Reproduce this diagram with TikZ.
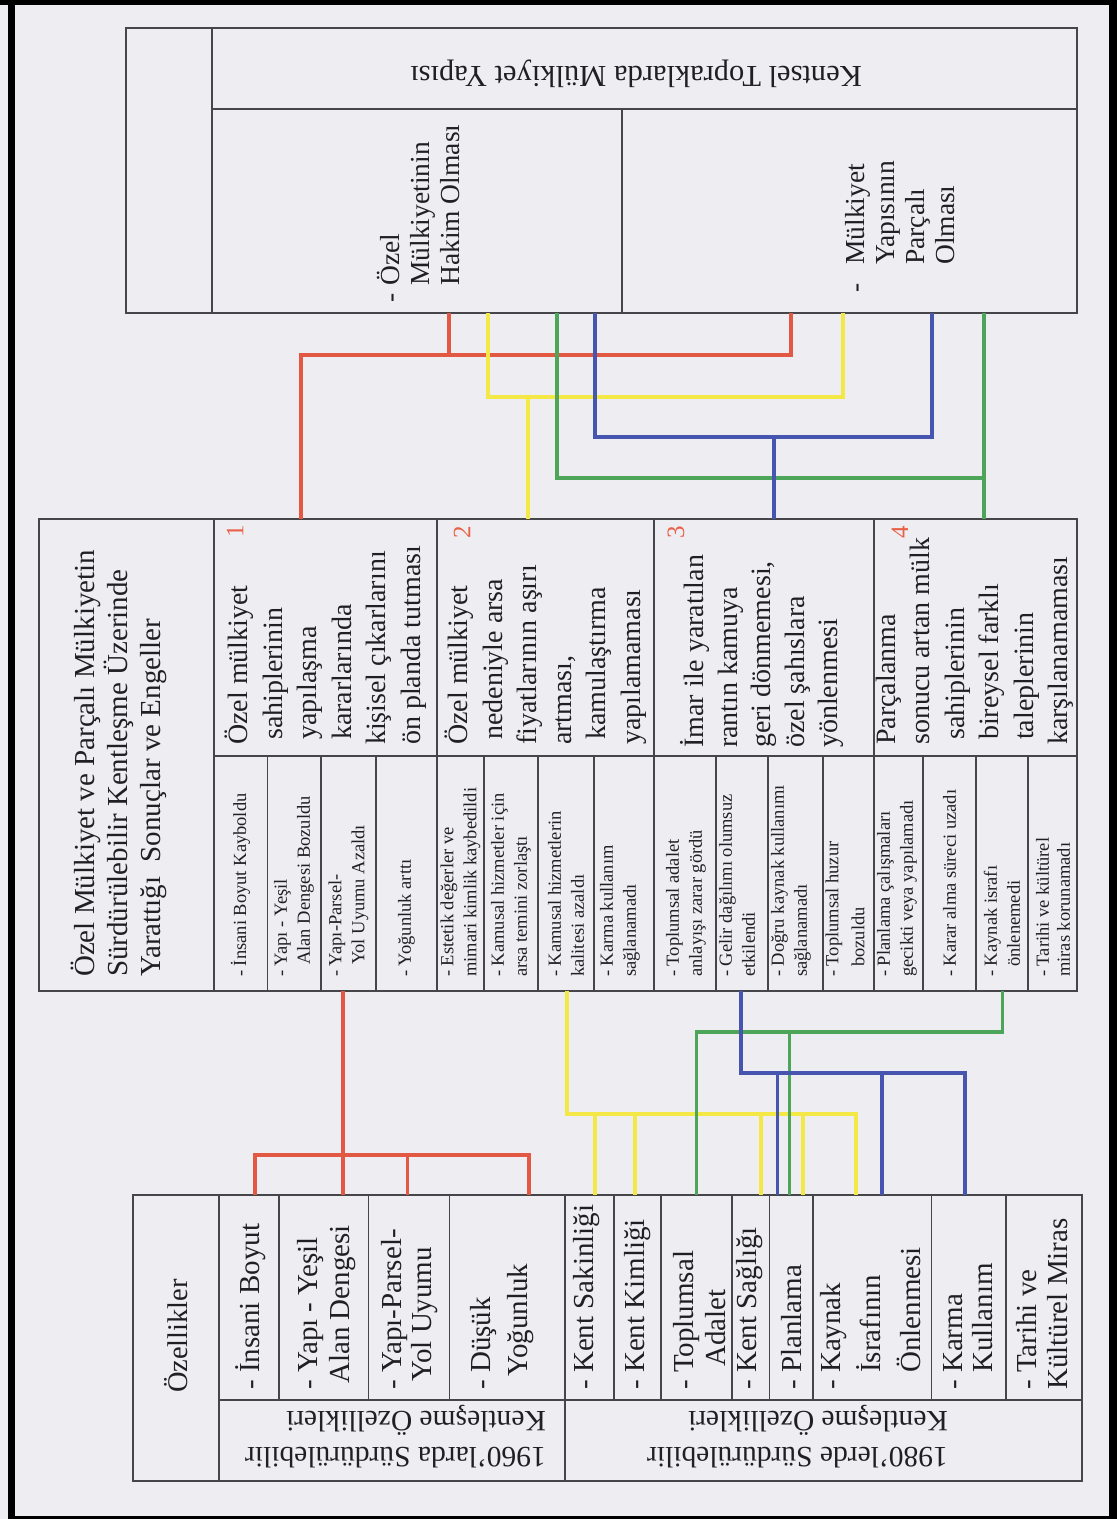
\documentclass[tikz,border=0pt]{standalone}
\usepackage{fontspec}
\setmainfont{Liberation Serif}
\definecolor{pagebg}{RGB}{238,238,242}
\definecolor{boxc}{RGB}{70,70,74}
\definecolor{txt}{RGB}{32,32,36}
\definecolor{lred}{RGB}{226,88,66}
\definecolor{lyel}{RGB}{244,232,70}
\definecolor{lgrn}{RGB}{76,165,88}
\definecolor{lblu}{RGB}{70,86,176}
\definecolor{nred}{RGB}{232,96,70}
\newcommand\dsh[1]{\makebox[#1][l]{-}}
\begin{document}
\begin{tikzpicture}[x=1pt,y=-1pt,
  box/.style={draw=boxc,line width=1.6pt},
  conn/.style={line width=3.2pt},
  tv/.style={rotate=90,anchor=west,inner sep=0pt,align=left,text=txt},
  big/.style={tv,font=\fontsize{29}{33}\selectfont},
  grp/.style={tv,font=\fontsize{28}{34.5}\selectfont},
  sml/.style={tv,font=\fontsize{18.5}{23}\selectfont},
  upd/.style={rotate=180,anchor=west,inner sep=0pt,align=left,text=txt,font=\fontsize{29.5}{36}\selectfont},
  num/.style={rotate=90,inner sep=0pt,text=nred,font=\fontsize{25}{25}\selectfont}]
% page
\useasboundingbox (0,0) rectangle (1117,1519);
\fill[pagebg] (0,0) rectangle (1117,1519);
\fill[black] (0,0) rectangle (1117,5);
\fill[black] (8,0) rectangle (15,1519);
\fill[black] (1109,0) rectangle (1117,1519);
\fill[black] (8,1516) rectangle (1117,1519);

% ---------- top block ----------
\draw[box] (126,28) rectangle (1077,313);
\draw[box] (212,28) -- (212,313);
\draw[box] (212,109) -- (1077,109);
\draw[box] (622,109) -- (622,313);
\node[upd,font=\fontsize{30.5}{34}\selectfont] (kentsel) at (862,74) {Kentsel Topraklarda Mülkiyet Yapısı};
\node[tv,font=\fontsize{27.5}{30}\selectfont] (ozelhakim) at (418,303) {\dsh{17pt}Özel\\\hspace*{17pt}Mülkiyetinin\\\hspace*{17pt}Hakim Olması};
\node[tv,font=\fontsize{27.5}{30}\selectfont] (parcali) at (900,293) {\dsh{28pt}Mülkiyet\\\hspace*{28pt}Yapısının\\\hspace*{28pt}Parçalı\\\hspace*{28pt}Olması};

% ---------- middle block ----------
\draw[box] (39,519) rectangle (1077,991);
\draw[box] (214,519) -- (214,991);
\draw[box] (214,756) -- (1077,756);
\foreach \x in {437,654,874} \draw[box] (\x,519) -- (\x,991);
\foreach \x in {267.5,321,376,484,538,594,716,768,823,923,976,1028} \draw[box] (\x,756) -- (\x,991);

\node[big] (mhead) at (119,977) {Özel Mülkiyet ve Parçalı Mülkiyetin\\Sürdürülebilir Kentleşme Üzerinde\\Yarattığı\ \ Sonuçlar ve Engeller};

\node[grp] (g1) at (325.5,745) {Özel mülkiyet\\\hspace*{5pt}sahiplerinin\\\hspace*{5pt}yapılaşma\\\hspace*{5pt}kararlarında\\kişisel çıkarlarını\\ön planda tutması};
\node[grp] (g2) at (545.5,745) {Özel mülkiyet\\\hspace*{5pt}nedeniyle arsa\\fiyatlarının aşırı\\artması,\\\hspace*{5pt}kamulaştırma\\yapılamaması};
\node[grp,font=\fontsize{28}{33.5}\selectfont] (g3) at (762,748) {İmar ile yaratılan\\rantın kamuya\\geri dönmemesi,\\özel şahıslara\\yönlenmesi};
\node[grp] (g4) at (975,745) {Parçalanma\\sonucu artan mülk\\\hspace*{5pt}sahiplerinin\\\hspace*{5pt}bireysel farklı\\\hspace*{5pt}taleplerinin\\karşılanamaması};

\node[num] (n1) at (235,531) {1};
\node[num] (n2) at (462,532) {2};
\node[num] (n3) at (676,532) {3};
\node[num] (n4) at (900,532) {4};

\node[sml] (s11) at (240.5,977) {- İnsani Boyut Kayboldu};
\node[sml] (s12) at (294,977) {- Yapı - Yeşil\\\hspace*{12pt}Alan Dengesi Bozuldu};
\node[sml] (s13) at (348.5,977) {- Yapı-Parsel-\\\hspace*{12pt}Yol Uyumu Azaldı};
\node[sml] (s14) at (406.5,977) {- Yoğunluk arttı};
\node[sml] (s21) at (460.5,977) {- Estetik değerler ve\\mimari kimlik kaybedildi};
\node[sml] (s22) at (511,977) {- Kamusal hizmetler için\\arsa temini zorlaştı};
\node[sml] (s23) at (566,977) {- Kamusal hizmetlerin\\kalitesi azaldı};
\node[sml] (s24) at (620,977) {- Karma kullanım\\sağlanamadı};
\node[sml] (s31) at (686,977) {- Toplumsal adalet\\anlayışı zarar gördü};
\node[sml] (s32) at (737,977) {- Gelir dağılımı olumsuz\\etkilendi};
\node[sml] (s33) at (791,977) {- Doğru kaynak kullanımı\\sağlanamadı};
\node[sml,font=\fontsize{18.5}{26}\selectfont] (s34) at (845,977) {- Toplumsal huzur\\\hspace*{10pt}bozuldu};
\node[sml] (s41) at (897,977) {- Planlama çalışmaları\\gecikti veya yapılamadı};
\node[sml] (s42) at (949.5,977) {- Karar alma süreci uzadı};
\node[sml] (s43) at (1002,977) {- Kaynak israfı\\\hspace*{10pt}önlenemedi};
\node[sml,font=\fontsize{18.5}{21}\selectfont] (s44) at (1053,977) {- Tarihi ve kültürel\\miras korunamadı};

% ---------- bottom block ----------
\draw[box] (133,1195) rectangle (1082,1481);
\draw[box] (219,1195) -- (219,1481);
\draw[box] (219,1400) -- (1082,1400);
\draw[box] (565,1195) -- (565,1481);
\foreach \x in {279,368.6,449.6,614,661,732,769.5,813,931.6,1006} \draw[box] (\x,1195) -- (\x,1400);

\node[big,anchor=center,font=\fontsize{28.5}{33}\selectfont] (ozellikler) at (176,1336) {Özellikler};
\node[upd] (y1960) at (546,1437) {1960'larda Sürdürülebilir\\Kentleşme Özellikleri};
\node[upd] (y1980) at (948,1437) {1980'lerde Sürdürülebilir\\Kentleşme Özellikleri};

\node[big] (b1) at (251,1390) {- İnsani Boyut};
\node[big,font=\fontsize{29}{32}\selectfont] (b2) at (327,1390) {- Yapı - Yeşil\\\hspace*{6pt}Alan Dengesi};
\node[big,font=\fontsize{29}{30}\selectfont] (b3) at (410,1390) {- Yapı-Parsel-\\\hspace*{8pt}Yol Uyumu};
\node[big,font=\fontsize{29}{37}\selectfont] (b4) at (502,1390) {- Düşük\\\hspace*{13pt}Yoğunluk};
\node[big] (b5) at (587,1390) {- Kent Sakinliği};
\node[big] (b6) at (638,1390) {- Kent Kimliği};
\node[big,font=\fontsize{29}{32}\selectfont] (b7) at (700,1390) {- Toplumsal\\\hspace*{23pt}Adalet};
\node[big] (b8) at (750,1390) {- Kent Sağlığı};
\node[big] (b9) at (792,1390) {- Planlama};
\node[big,font=\fontsize{29}{40}\selectfont] (b10) at (871,1390) {- Kaynak\\\hspace*{17pt}İsrafının\\\hspace*{17pt}Önlenmesi};
\node[big,font=\fontsize{29}{30}\selectfont] (b11) at (968,1390) {- Karma\\\hspace*{17pt}Kullanım};
\node[big,font=\fontsize{29}{31}\selectfont] (b12) at (1042,1390) {- Tarihi ve\\Kültürel Miras};

% ---------- connectors: top block -> middle block ----------
\coordinate (rA1) at (449,313); \coordinate (rA2) at (791,313);
\coordinate (rJ) at (301,355);  \coordinate (rB) at (301,519);
\coordinate (yA1) at (488,313); \coordinate (yA2) at (843,313);
\coordinate (yJ) at (488,397);  \coordinate (yB) at (528,519);
\coordinate (gA1) at (557,313); \coordinate (gA2) at (984,313);
\coordinate (gJ) at (557,478);  \coordinate (gB) at (984,519);
\coordinate (bA1) at (595,313); \coordinate (bA2) at (932,313);
\coordinate (bJ) at (595,437);  \coordinate (bB) at (774,519);

\draw[conn,lred] (rB) -- (rJ) -| (rA2);
\draw[conn,lred] (rA1) -- (rA1 |- rJ);
\draw[conn,lyel] (yA1) -- (yJ) -| (yA2);
\draw[conn,lyel] (yB) -- (yB |- yJ);
\draw[conn,lgrn] (gA1) -- (gJ) -| (gA2);
\draw[conn,lgrn] (gA2) -- (gB);
\draw[conn,lblu] (bA1) -- (bJ) -| (bA2);
\draw[conn,lblu] (bB) -- (bB |- bJ);

% ---------- connectors: middle block -> bottom block ----------
\coordinate (rM) at (343,991);   \coordinate (rH) at (0,1155);
\coordinate (rC1) at (255,1195); \coordinate (rC2) at (343,1195);
\coordinate (rC3) at (407.5,1195); \coordinate (rC4) at (529,1195);
\draw[conn,lred] (rM) -- (rC2);
\draw[conn,lred] (rC1) -- (rC1 |- rH) -- (rC4 |- rH) -- (rC4);
\draw[conn,lred] (rC3) -- (rC3 |- rH);

\coordinate (yM) at (567,991);   \coordinate (yH) at (0,1114);
\coordinate (yC1) at (595,1195); \coordinate (yC2) at (635,1195);
\coordinate (yC3) at (761,1195); \coordinate (yC4) at (803,1195);
\coordinate (yC5) at (856,1195);
\draw[conn,lyel] (yM) -- (yM |- yH) -- (yC5 |- yH) -- (yC5);
\foreach \c in {yC1,yC2,yC3,yC4} \draw[conn,lyel] (\c) -- (\c |- yH);

\coordinate (gM) at (1002.5,991); \coordinate (gH) at (0,1032);
\coordinate (gC1) at (696.5,1195); \coordinate (gC2) at (789.5,1195);
\draw[conn,lgrn] (gM) -- (gM |- gH) -- (gC1 |- gH) -- (gC1);
\draw[conn,lgrn] (gC2) -- (gC2 |- gH);

\coordinate (bM) at (741,991);   \coordinate (bH) at (0,1073);
\coordinate (bC1) at (777.5,1195); \coordinate (bC2) at (882,1195);
\coordinate (bC3) at (965,1195);
\draw[conn,lblu] (bM) -- (bM |- bH) -- (bC3 |- bH) -- (bC3);
\draw[conn,lblu] (bC1) -- (bC1 |- bH);
\draw[conn,lblu] (bC2) -- (bC2 |- bH);
\end{tikzpicture}
\end{document}
